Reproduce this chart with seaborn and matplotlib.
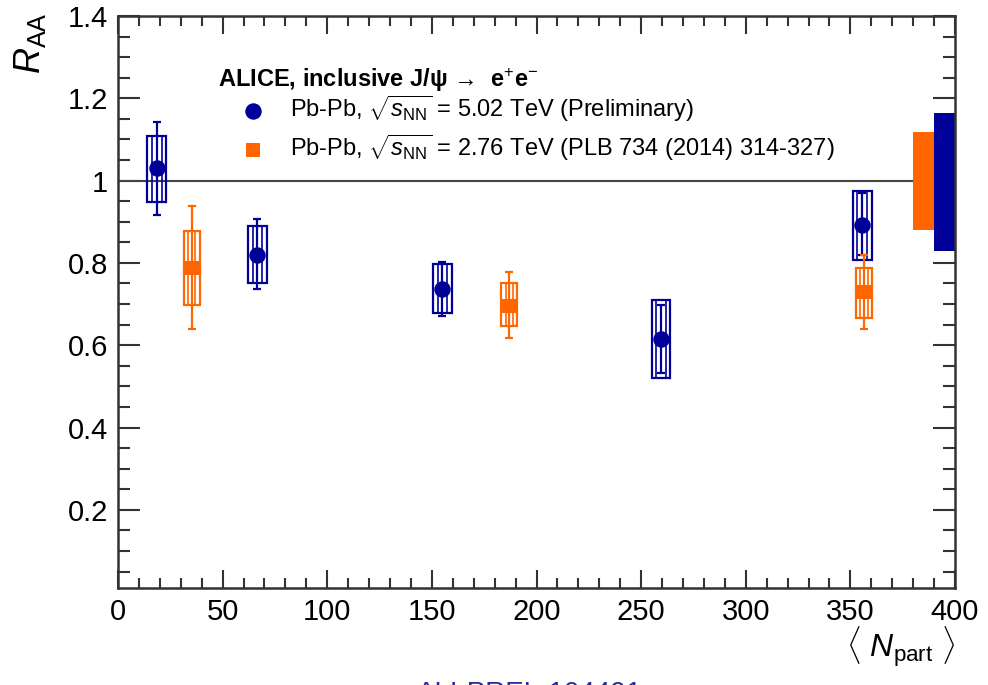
import numpy as np
import pandas as pd
import seaborn as sns
import matplotlib.pyplot as plt
from matplotlib.patches import Rectangle
from matplotlib.ticker import MultipleLocator, FormatStrFormatter

# Pb-Pb 5.02 TeV (preliminary)
npart_502 = [18.5, 66.6, 155.0, 259.5, 355.7]
raa_502 = [1.030, 0.819, 0.737, 0.615, 0.892]
stat_lo_502 = [0.916, 0.736, 0.671, 0.532, 0.820]
stat_hi_502 = [1.142, 0.906, 0.803, 0.698, 0.970]
syst_lo_502 = [0.949, 0.751, 0.679, 0.521, 0.807]
syst_hi_502 = [1.109, 0.890, 0.797, 0.710, 0.975]

# Pb-Pb 2.76 TeV (PLB 734)
npart_276 = [35.2, 187.0, 356.5]
raa_276 = [0.787, 0.696, 0.730]
stat_lo_276 = [0.639, 0.618, 0.639]
stat_hi_276 = [0.938, 0.779, 0.819]
syst_lo_276 = [0.698, 0.647, 0.666]
syst_hi_276 = [0.878, 0.751, 0.788]

# global (correlated) uncertainties around unity
glob_x = [385, 395]
glob_lo = [0.879, 0.829]
glob_hi = [1.118, 1.165]

blue = '#000099'
orange = '#ff6600'

title = 'ALICE, inclusive J/\u03c8 \u2192  e$^{+}$e$^{-}$'
label_502 = r'Pb-Pb, $\sqrt{s_{\rm NN}}$ = 5.02 TeV (Preliminary)'
label_276 = r'Pb-Pb, $\sqrt{s_{\rm NN}}$ = 2.76 TeV (PLB 734 (2014) 314-327)'

df502 = pd.DataFrame({'npart': npart_502, 'raa': raa_502,
                      'slo': stat_lo_502, 'shi': stat_hi_502,
                      'ylo': syst_lo_502, 'yhi': syst_hi_502})
df276 = pd.DataFrame({'npart': npart_276, 'raa': raa_276,
                      'slo': stat_lo_276, 'shi': stat_hi_276,
                      'ylo': syst_lo_276, 'yhi': syst_hi_276})

sns.set_style('white')
plt.rcParams['font.family'] = ['Liberation Sans', 'DejaVu Sans']
plt.rcParams['mathtext.fontset'] = 'custom'
plt.rcParams['mathtext.rm'] = 'Liberation Sans'
plt.rcParams['mathtext.it'] = 'Liberation Sans:italic'
plt.rcParams['mathtext.bf'] = 'Liberation Sans:bold'
plt.rcParams['text.color'] = 'black'
plt.rcParams['xtick.color'] = '#222222'
plt.rcParams['ytick.color'] = '#222222'
plt.rcParams['xtick.labelcolor'] = 'black'
plt.rcParams['ytick.labelcolor'] = 'black'

fig = plt.figure(figsize=(9.88, 6.85), dpi=100)
ax = fig.add_axes([118 / 988, 1 - 588 / 685, 837 / 988, 572 / 685])

ax.axhline(1.0, color='#444444', lw=1.5, zorder=1)

def draw_points(df, color, half_out, half_in):
	for _, r in df.iterrows():
		h = r['yhi'] - r['ylo']
		ax.add_patch(Rectangle((r['npart'] - half_out, r['ylo']), 2 * half_out, h,
			fill=False, edgecolor=color, lw=1.6, zorder=3))
		ax.add_patch(Rectangle((r['npart'] - half_in, r['ylo']), 2 * half_in, h,
			fill=False, edgecolor=color, lw=1.2, zorder=3))
	ax.errorbar(df['npart'], df['raa'],
		yerr=[df['raa'] - df['slo'], df['shi'] - df['raa']],
		fmt='none', ecolor=color, elinewidth=1.6, capsize=3, capthick=1.6, zorder=4)

draw_points(df502, blue, 4.5, 2.3)
draw_points(df276, orange, 3.8, 1.8)

sns.scatterplot(data=df502, x='npart', y='raa', ax=ax, color=blue, marker='o',
	s=140, edgecolor=blue, linewidth=0, label=label_502, zorder=5)
sns.scatterplot(data=df276, x='npart', y='raa', ax=ax, color=orange, marker='s',
	s=95, edgecolor=orange, linewidth=0, label=label_276, zorder=5)

ax.bar(glob_x, np.array(glob_hi) - np.array(glob_lo), bottom=glob_lo, width=10,
	color=[orange, blue], linewidth=0, zorder=2)

ax.set_xlim(0, 400)
ax.set_ylim(0.01, 1.4)
ax.set_xlabel('')
ax.set_ylabel('')
ax.xaxis.set_major_locator(MultipleLocator(50))
ax.xaxis.set_minor_locator(MultipleLocator(10))
ax.yaxis.set_major_locator(MultipleLocator(0.2))
ax.yaxis.set_minor_locator(MultipleLocator(0.05))
ax.yaxis.set_major_formatter(FormatStrFormatter('%g'))

for sp in ax.spines.values():
	sp.set_linewidth(1.8)
	sp.set_color('#333333')
ax.tick_params(which='both', direction='in', top=True, right=True, bottom=True, left=True,
	color='#333333', width=1.5)
ax.tick_params(axis='x', which='major', length=13, pad=7, labelsize=21)
ax.tick_params(axis='x', which='minor', length=7)
ax.tick_params(axis='y', which='major', length=16, pad=7, labelsize=21)
ax.tick_params(axis='y', which='minor', length=8.5)

leg = ax.legend(loc='upper left', bbox_to_anchor=(0.119, 0.865), frameon=False,
	borderaxespad=0, borderpad=0, fontsize=17, handlelength=3.0, handletextpad=0.05,
	labelspacing=0.38, alignment='left')
ax.text(0.119, (588 - 80) / 572, title, transform=ax.transAxes, ha='left', va='center',
	fontsize=17, fontweight='bold')

fig.text(30 / 988, 1 - 12 / 685, r'$R_{\rm AA}$', rotation=90, ha='center', va='top', fontsize=26)
fig.text(955 / 988, 1 - 624 / 685, r'$\langle\ N_{\rm part}\ \rangle$', ha='right', va='top', fontsize=23)
fig.text(530 / 988, 1 - 681 / 685, 'ALI-PREL-104491', ha='center', va='top', fontsize=20, color='#2a2a9a')

plt.savefig('out.png', dpi=100)
